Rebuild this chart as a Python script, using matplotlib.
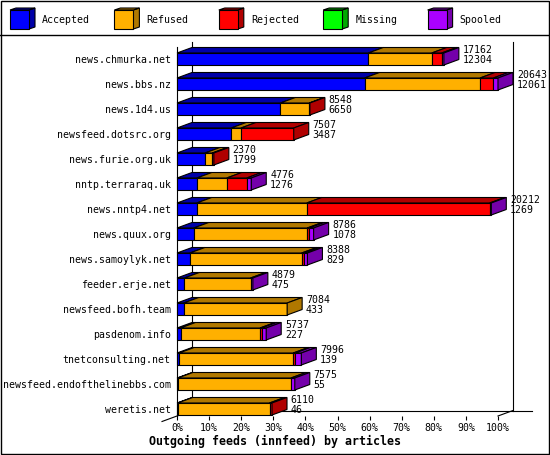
import numpy as np
import matplotlib.pyplot as plt
from matplotlib.patches import Polygon, Rectangle

# feeds, top to bottom
feeds = ["news.chmurka.net", "news.bbs.nz", "news.1d4.us", "newsfeed.dotsrc.org",
         "news.furie.org.uk", "nntp.terraraq.uk", "news.nntp4.net", "news.quux.org",
         "news.samoylyk.net", "feeder.erje.net", "newsfeed.bofh.team", "pasdenom.info",
         "tnetconsulting.net", "newsfeed.endofthelinebbs.com", "weretis.net"]
offered = [17162, 20643, 8548, 7507, 2370, 4776, 20212, 8786, 8388, 4879, 7084, 5737, 7996, 7575, 6110]
accepted = [12304, 12061, 6650, 3487, 1799, 1276, 1269, 1078, 829, 475, 433, 227, 139, 55, 46]
refused = [4077, 7428, 1858, 630, 470, 1923, 7074, 7299, 7190, 4259, 6651, 5113, 7338, 7274, 5904]
rejected = [643, 855, 40, 3390, 101, 1286, 11769, 129, 148, 0, 0, 109, 129, 0, 160]
missing = [0, 0, 0, 0, 0, 0, 0, 0, 0, 0, 0, 0, 0, 0, 0]
spooled = [138, 299, 0, 0, 0, 291, 100, 280, 221, 145, 0, 288, 390, 246, 0]

series = ["Accepted", "Refused", "Rejected", "Missing", "Spooled"]
front_col = ["#0000ff", "#ffb000", "#ff0000", "#00ff00", "#aa00ff"]
shade_col = ["#0000a8", "#b07800", "#b00000", "#00a800", "#7400aa"]

MONO = "DejaVu Sans Mono"
FS = 7.1

W, H = 550, 455
fig = plt.figure(figsize=(W / 100, H / 100), dpi=100)

# frame + legend, in pixel space
deco = fig.add_axes([0, 0, 1, 1])
deco.set_xlim(0, W)
deco.set_ylim(H, 0)
deco.axis("off")
deco.add_patch(Rectangle((0.5, 0.5), W - 1.5, H - 1.5, fill=False, ec="black", lw=1))
deco.plot([0, W], [35, 35], color="black", lw=1)
for i, name in enumerate(series):
    x0 = 10 + 104.4 * i
    deco.add_patch(Polygon([(x0 + 19, 10), (x0 + 25, 8), (x0 + 25, 27), (x0 + 19, 29)],
                           fc=shade_col[i], ec="black", lw=0.8))
    deco.add_patch(Polygon([(x0, 10), (x0 + 6, 8), (x0 + 25, 8), (x0 + 19, 10)],
                           fc=shade_col[i], ec="black", lw=0.8))
    deco.add_patch(Rectangle((x0, 10), 19, 19, fc=front_col[i], ec="black", lw=0.8))
    deco.text(x0 + 32, 20, name, family=MONO, fontsize=FS, va="center", ha="left")

fig.text(0.5, 1 - 441 / H, "Outgoing feeds (innfeed) by articles", family=MONO,
         fontsize=8.4, fontweight="bold", ha="center", va="center")

# main chart
ax = fig.add_axes([177 / W, 39 / H, 321 / W, 369 / H])
ax.patch.set_visible(False)
ytop, ybot = -0.48, 14.28
ax.set_xlim(0, 100)
ax.set_ylim(ybot, ytop)
for s in ax.spines.values():
    s.set_visible(False)

dx, dy = 4.67, 0.22   # 3d depth in data units
hh = 0.24             # half bar height

kw = dict(color="black", lw=0.8, clip_on=False, zorder=1)
ax.plot([dx, dx], [ytop - dy, ybot - dy], **kw)
ax.plot([100 + dx, 100 + dx], [ytop - dy, ybot - dy], **kw)
ax.plot([dx, 100 + dx + 5.9], [ybot - dy, ybot - dy], **kw)
ax.plot([0, 0], [ytop, ybot], **kw)
ax.plot([100, 100 + dx], [ybot, ybot - dy], **kw)
ax.plot([-dx, dx], [ybot + dy, ybot - dy], **kw)

vmax = max(offered)
data = np.array([accepted, refused, rejected, missing, spooled], dtype=float) / vmax * 100

for r in range(len(feeds)):
    left = 0.0
    last = None
    for k in range(len(series)):
        w = data[k, r]
        if w <= 0:
            continue
        x1 = left + w
        ax.add_patch(Polygon([(left, r - hh), (left + dx, r - hh - dy),
                              (x1 + dx, r - hh - dy), (x1, r - hh)],
                             fc=shade_col[k], ec="black", lw=0.8, clip_on=False, zorder=3))
        ax.add_patch(Rectangle((left, r - hh), w, 2 * hh, fc=front_col[k], ec="black",
                               lw=0.8, clip_on=False, zorder=4))
        left = x1
        last = k
    ax.add_patch(Polygon([(left, r - hh), (left + dx, r - hh - dy),
                          (left + dx, r + hh - dy), (left, r + hh)],
                         fc=shade_col[last], ec="black", lw=0.8, clip_on=False, zorder=4))
    ax.text(left + dx + 1.2, r - 0.16, f"{offered[r]}\n{accepted[r]}", family=MONO,
            fontsize=FS, va="center", ha="left", linespacing=1.1, zorder=6)

ax.set_xticks(np.arange(0, 101, 10))
ax.set_xticklabels([f"{t}%" for t in range(0, 101, 10)], family=MONO, fontsize=FS)
ax.set_yticks(np.arange(len(feeds)))
ax.set_yticklabels(feeds, family=MONO, fontsize=FS)
ax.tick_params(axis="x", length=3, width=0.8, pad=2, direction="out")
ax.tick_params(axis="y", length=0, pad=4.5)

fig.savefig("out.png", dpi=100)
